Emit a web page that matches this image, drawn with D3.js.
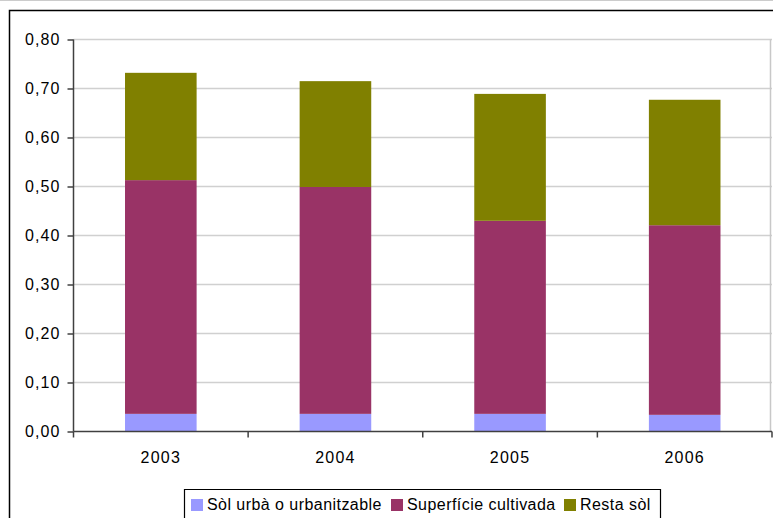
<!DOCTYPE html>
<html><head><meta charset="utf-8">
<script src="https://cdn.jsdelivr.net/npm/d3@7/dist/d3.min.js"></script>
<style>body{margin:0;background:#fff}svg{display:block;font-family:"Liberation Sans",Arial,sans-serif}</style>
</head><body><svg id="c" width="773" height="518"></svg>
<script>
const categories = ["2003","2004","2005","2006"];
const seriesNames = ["Sòl urbà o urbanitzable","Superfície cultivada","Resta sòl"];
const urba = [0.036,0.036,0.036,0.034];
const cultivada = [0.477,0.463,0.394,0.387];
const resta = [0.219,0.216,0.259,0.256];
const yTicks = [0,0.1,0.2,0.3,0.4,0.5,0.6,0.7,0.8];
const colors = ["#9999FF","#993366","#808000"];

const svg = d3.select("#c");
const m = {l:73.5, r:772, t:39.5, b:431.5};
const x = d3.scaleBand().domain(categories).range([m.l,m.r]).paddingInner(0.59).paddingOuter(0.295);
const xb = d3.scaleBand().domain(categories).range([m.l,m.r]);
const y = d3.scaleLinear().domain([0,0.8]).range([m.b,m.t]);

// outer frame
svg.append("line").attr("x1",0).attr("x2",773).attr("y1",0.5).attr("y2",0.5).attr("stroke","#ccc");
svg.append("path").attr("d",`M9.5,518V10.5H773`).attr("fill","none").attr("stroke","#000").attr("stroke-width",1.5);

// grid
svg.append("g").selectAll("line").data(yTicks.slice(1)).join("line")
  .attr("x1",m.l).attr("x2",m.r).attr("y1",d=>y(d)).attr("y2",d=>y(d))
  .attr("stroke","#d0d0d0").attr("stroke-width",1.5);
svg.append("line").attr("x1",770.5).attr("x2",770.5).attr("y1",m.t).attr("y2",m.b).attr("stroke","#c8c8c8").attr("stroke-width",1.5);

// bars
const data = categories.map((c,i)=>({cat:c, s0:urba[i], s1:cultivada[i], s2:resta[i]}));
const stack = d3.stack().keys(["s0","s1","s2"])(data);
svg.append("g").selectAll("g").data(stack).join("g").attr("fill",(d,i)=>colors[i])
  .selectAll("rect").data(d=>d).join("rect")
  .attr("x",d=>x(d.data.cat)).attr("width",x.bandwidth())
  .attr("y",d=>y(d[1])).attr("height",d=>y(d[0])-y(d[1]));

// y axis
const ya = svg.append("g").attr("transform",`translate(${m.l},0)`)
  .call(d3.axisLeft(y).tickValues(yTicks).tickSize(6).tickPadding(7)
    .tickFormat(d=>d3.format(".2f")(d).replace(".",",")));
ya.select(".domain").attr("stroke","#404040").attr("stroke-width",1.5).attr("d",`M0,${m.t}V${m.b}`);
ya.selectAll(".tick line").attr("stroke","#404040").attr("stroke-width",1.5);
ya.selectAll("text").attr("font-size",16).attr("fill","#000").attr("letter-spacing","1.1px")
  .attr("font-family","Liberation Sans, Arial, sans-serif");

// x axis
const xa = svg.append("g").attr("transform",`translate(0,${m.b})`);
xa.append("line").attr("x1",m.l).attr("x2",m.r).attr("stroke","#404040").attr("stroke-width",1.5);
xa.selectAll("line.t").data(categories).join("line").attr("class","t")
  .attr("x1",d=>xb(d)+xb.bandwidth()).attr("x2",d=>xb(d)+xb.bandwidth())
  .attr("y1",0).attr("y2",6).attr("stroke","#404040").attr("stroke-width",1.5);
xa.append("line").attr("x1",m.l).attr("x2",m.l).attr("y1",0).attr("y2",6).attr("stroke","#404040").attr("stroke-width",1.5);
xa.selectAll("text").data(categories).join("text")
  .attr("x",d=>xb(d)+xb.bandwidth()/2).attr("y",31).attr("text-anchor","middle")
  .attr("font-size",16).attr("letter-spacing","1.2px").text(d=>d);

// legend
const lg = svg.append("g");
lg.append("path").attr("d","M184.5,518V489.5H660.5V518").attr("fill","none").attr("stroke","#000").attr("stroke-width",1.2);
const lx = [191,391,564];
seriesNames.forEach((n,i)=>{
  lg.append("rect").attr("x",lx[i]).attr("y",499).attr("width",12).attr("height",12).attr("fill",colors[i]);
  lg.append("text").attr("x",lx[i]+16).attr("y",510).attr("font-size",16).attr("letter-spacing","0.45px").text(n);
});
</script></body></html>
